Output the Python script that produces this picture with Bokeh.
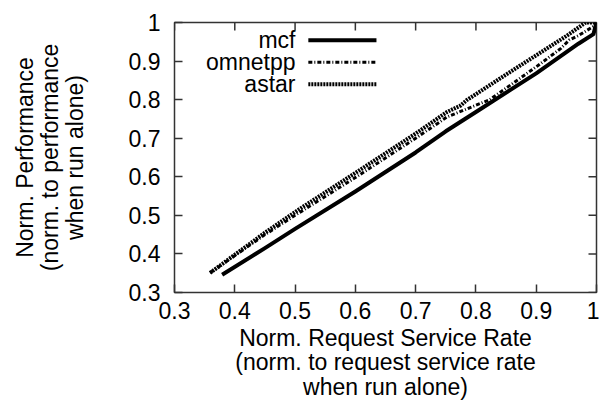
from bokeh.plotting import figure
from bokeh.models import FixedTicker, Range1d, Label
from bokeh.embed import file_html
from bokeh.resources import INLINE

# Data
mcf_x = [0.379, 0.45, 0.5, 0.6, 0.7, 0.75, 0.8, 0.9, 0.97, 0.995, 1.0]
mcf_y = [0.346, 0.415, 0.465, 0.562, 0.663, 0.718, 0.768, 0.868, 0.945, 0.970, 1.0]

omnetpp_x = [0.359, 0.45, 0.5, 0.6, 0.7, 0.752, 0.823, 0.9, 0.941, 0.955, 0.970, 0.995, 1.0]
omnetpp_y = [0.351, 0.450, 0.500, 0.598, 0.700, 0.755, 0.800, 0.885, 0.933, 0.955, 0.966, 0.990, 1.0]

astar_x = [0.359, 0.45, 0.507, 0.6, 0.7, 0.752, 0.775, 0.785, 0.85, 0.9, 0.95, 0.982, 1.0]
astar_y = [0.351, 0.455, 0.516, 0.610, 0.712, 0.768, 0.785, 0.799, 0.865, 0.915, 0.965, 1.000, 1.0]

x_ticks = [0.3, 0.4, 0.5, 0.6, 0.7, 0.8, 0.9, 1.0]
y_ticks = [0.3, 0.4, 0.5, 0.6, 0.7, 0.8, 0.9, 1.0]
tick_labels = ["0.3", "0.4", "0.5", "0.6", "0.7", "0.8", "0.9", "1"]

series_names = ["mcf", "omnetpp", "astar"]

FONT = "Liberation Sans"
W, H = 599, 402
BL, BR, BT, BB = 174, 3, 22, 108
FW, FH = W - BL - BR, H - BT - BB
XR, YR = (0.3, 1.0), (0.3, 1.0)

p = figure(width=W, height=H, output_backend="svg", toolbar_location=None,
           x_range=Range1d(*XR), y_range=Range1d(*YR),
           min_border_left=BL, min_border_right=BR, min_border_top=BT,
           min_border_bottom=BB)
p.grid.visible = False
p.outline_line_color = "#333333"
p.outline_line_width = 1.5
p.background_fill_color = "white"
p.border_fill_color = "white"

overrides = {t: l for t, l in zip(x_ticks, tick_labels)}

for ax, ticks in ((p.xaxis[0], x_ticks), (p.yaxis[0], y_ticks)):
    ax.ticker = FixedTicker(ticks=ticks)
    ax.major_label_overrides = overrides
    ax.major_tick_in = 8
    ax.major_tick_out = 0
    ax.minor_tick_line_color = None
    ax.axis_line_color = None
    ax.major_tick_line_color = "#333333"
    ax.major_tick_line_width = 1.5
    ax.major_label_text_font = FONT
    ax.major_label_text_font_size = "23px"
    ax.major_label_text_color = "black"
    ax.axis_label_text_font = FONT
    ax.axis_label_text_font_size = "23px"
    ax.axis_label_text_font_style = "normal"
    ax.axis_label_text_color = "black"
    ax.axis_label_text_line_height = 0.95

p.xaxis[0].major_label_standoff = 9
p.yaxis[0].major_label_standoff = 14
p.xaxis[0].axis_label = "Norm. Request Service Rate\n(norm. to request service rate\nwhen run alone)"
p.yaxis[0].axis_label = "Norm. Performance\n(norm. to performance\nwhen run alone)"
p.xaxis[0].axis_label_standoff = 3
p.yaxis[0].axis_label_standoff = 38

# mirrored tick marks on the top and right frame edges
tick_dy = 8 / FH * (YR[1] - YR[0])
tick_dx = 8 / FW * (XR[1] - XR[0])
p.segment(x0=x_ticks, y0=[YR[1]] * len(x_ticks), x1=x_ticks,
          y1=[YR[1] - tick_dy] * len(x_ticks), line_color="#333333", line_width=1.5)
p.segment(x0=[XR[1]] * len(y_ticks), y0=y_ticks, x1=[XR[1] - tick_dx] * len(y_ticks),
          y1=y_ticks, line_color="#333333", line_width=1.5)

styles = [
    dict(line_width=4, line_dash="solid"),
    dict(line_width=3, line_dash="4 2 1 2"),
    dict(line_width=4, line_dash="2 1"),
]
series = [(mcf_x, mcf_y), (omnetpp_x, omnetpp_y), (astar_x, astar_y)]

for (xs, ys), st in zip(series, styles):
    p.line(xs, ys, line_color="black", line_join="round", **st)

# legend (label to the left of the sample line)
leg_text_x = 0.5007
leg_x0, leg_x1 = 0.522, 0.635
leg_rows = [0.954, 0.897, 0.840]
for name, st, ry in zip(series_names, styles, leg_rows):
    p.add_layout(Label(x=leg_text_x, y=ry, text=name, text_align="right",
                       text_baseline="middle", text_font=FONT,
                       text_font_size="23px", text_color="black"))
    p.segment(x0=[leg_x0], y0=[ry], x1=[leg_x1], y1=[ry], line_color="black", **st)

open("out.html", "w").write(file_html(p, INLINE))
